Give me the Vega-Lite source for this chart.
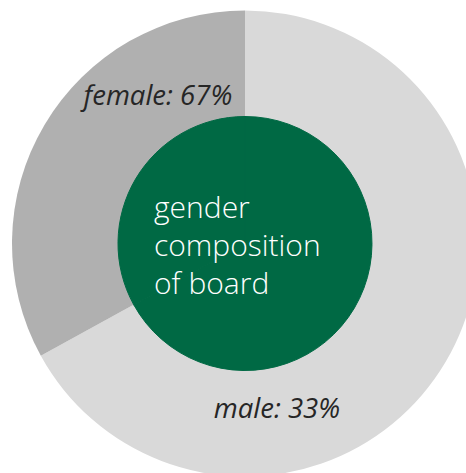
{
  "$schema": "https://vega.github.io/schema/vega-lite/v6.json",
  "width": 442,
  "height": 459,
  "autosize": {"type": "none"},
  "padding": {"left": 24, "top": 14, "right": 0, "bottom": 0},
  "background": "white",
  "config": {"view": {"stroke": null}},
  "data": {
    "values": [
      {"gender": "male", "share": 67, "label": "male: 33%"},
      {"gender": "female", "share": 33, "label": "female: 67%"}
    ]
  },
  "layer": [
    {
      "mark": {"type": "arc", "outerRadius": 233, "strokeWidth": 0},
      "encoding": {
        "theta": {"field": "share", "type": "quantitative", "stack": true},
        "color": {"field": "gender", "type": "nominal", "scale": {"domain": ["male", "female"], "range": ["#d9d9d9", "#b0b0b0"]}, "legend": null},
        "order": {"field": "gender", "sort": "descending"}
      }
    },
    {
      "mark": {"type": "arc", "outerRadius": 127, "fill": "#006944", "stroke": "#006944", "strokeWidth": 1},
      "encoding": {
        "theta": {"field": "share", "type": "quantitative", "stack": true},
        "order": {"field": "gender", "sort": "descending"}
      }
    },
    {
      "mark": {"type": "text", "radius": 170, "thetaOffset": 0.499, "font": "Open Sans", "fontStyle": "italic", "fontSize": 27.5, "color": "#262626", "align": "center", "baseline": "middle"},
      "encoding": {
        "theta": {"field": "share", "type": "quantitative", "stack": true},
        "order": {"field": "gender", "sort": "descending"},
        "text": {"condition": {"test": "datum.gender === 'female'", "field": "label"}, "value": ""}
      }
    },
    {
      "mark": {"type": "text", "radius": 170, "thetaOffset": 0.848, "font": "Open Sans", "fontStyle": "italic", "fontSize": 27.5, "color": "#262626", "align": "center", "baseline": "middle"},
      "encoding": {
        "theta": {"field": "share", "type": "quantitative", "stack": true},
        "order": {"field": "gender", "sort": "descending"},
        "text": {"condition": {"test": "datum.gender === 'male'", "field": "label"}, "value": ""}
      }
    },
    {
      "data": {"values": [{"title": "gender\ncomposition\nof board"}]},
      "mark": {"type": "text", "font": "Open Sans", "fontWeight": 300, "fontSize": 30, "color": "white", "align": "left", "baseline": "alphabetic", "lineBreak": "\n", "lineHeight": 38, "dx": -91, "dy": -26},
      "encoding": {"text": {"field": "title", "type": "nominal"}}
    }
  ]
}
